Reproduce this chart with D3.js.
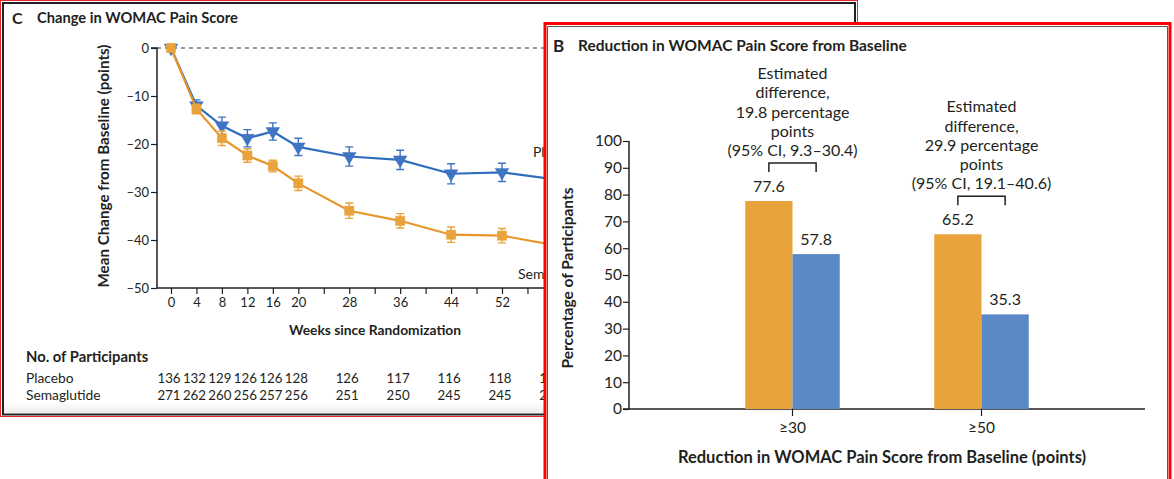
<!DOCTYPE html>
<html>
<head>
<meta charset="utf-8">
<script src="https://cdn.jsdelivr.net/npm/d3@7"></script>
<style>
  html, body { margin: 0; padding: 0; background: #fff; }
  svg { display: block; font-family: Lato, "Open Sans", sans-serif; }
</style>
</head>
<body>
<svg id="fig" width="1174" height="479"></svg>
<script>
// ---- Panel C: change in WOMAC pain score over time ----
const weeks = [0, 4, 8, 12, 16, 20, 28, 36, 44, 52, 60];
const weekTicks = d3.range(0, 65, 4);
const weekLabels = [0, 4, 8, 12, 16, 20, 28, 36, 44, 52, 60];
const placeboMean = [0, -12.0, -16.2, -18.8, -17.4, -20.6, -22.6, -23.3, -26.2, -25.9, -27.3];
const placeboErr  = [0, 1.2, 1.8, 1.8, 1.8, 1.8, 2.0, 2.0, 2.1, 1.9, 2.0];
const semaMean    = [0, -12.7, -18.8, -22.4, -24.6, -28.2, -33.9, -36.0, -38.9, -39.1, -41.0];
const semaErr     = [0, 1.0, 1.5, 1.4, 1.2, 1.5, 1.6, 1.5, 1.6, 1.5, 1.5];
const changeTicks = [0, -10, -20, -30, -40, -50];
const placeboN = [136, 132, 129, 126, 126, 128, 126, 117, 116, 118, 116];
const semaN    = [271, 262, 260, 256, 257, 256, 251, 250, 245, 245, 244];

// ---- Panel B: responders by threshold ----
const thresholds = ["≥30", "≥50"];
const semaPct    = [77.6, 65.2];
const placeboPct = [57.8, 35.3];
const pctTicks   = d3.range(0, 101, 10);
const diffNotes  = [
  ["Estimated", "difference,", "19.8 percentage", "points", "(95% CI, 9.3–30.4)"],
  ["Estimated", "difference,", "29.9 percentage", "points", "(95% CI, 19.1–40.6)"]
];

const ORANGE = "#E8A33C", ORANGE_LINE = "#E8962A";
const BLUE = "#5B89C6", BLUE_LINE = "#2F6EBF", BLUE_MARK = "#3E74C2";
const INK = "#231f20";
const fmtMinus = v => v === 0 ? "0" : "–" + Math.abs(v);

const svg = d3.select("#fig");
const defs = svg.append("defs");

// panel C sits behind panel B; keep its drawing to the uncovered area
defs.append("clipPath").attr("id", "clipC")
  .append("path").attr("d", "M0,0H860V22H545V479H0Z");

// ===================== Panel C =====================
const gC = svg.append("g").attr("clip-path", "url(#clipC)");

// faint shading at the bottom of the frame
const grad = defs.append("linearGradient").attr("id", "shade").attr("x1", 0).attr("x2", 0).attr("y1", 0).attr("y2", 1);
grad.append("stop").attr("offset", "0%").attr("stop-color", "#fff");
grad.append("stop").attr("offset", "100%").attr("stop-color", "#ececec");
gC.append("rect").attr("x", 4).attr("y", 402).attr("width", 850).attr("height", 11).attr("fill", "url(#shade)");

// frame: thin red outline around a dark rule
gC.append("rect").attr("x", 0.5).attr("y", 0.5).attr("width", 857).attr("height", 416)
  .attr("fill", "none").attr("stroke", "#e8292b").attr("stroke-width", 1);
gC.append("rect").attr("x", 3).attr("y", 3).attr("width", 852).attr("height", 411.5)
  .attr("fill", "none").attr("stroke", "#222").attr("stroke-width", 2);

gC.append("text").attr("x", 12).attr("y", 24).attr("font-weight", 700).attr("font-size", 16).attr("fill", INK).text("C");
gC.append("text").attr("x", 37).attr("y", 23).attr("font-weight", 700).attr("font-size", 14.7).attr("fill", INK)
  .text("Change in WOMAC Pain Score");

const xC = d3.scaleLinear().domain([0, 52]).range([171, 502]);
const yC = d3.scaleLinear().domain([-50, 0]).range([288, 48]);
const axisLeftX = 157;

// zero reference line
gC.append("line").attr("x1", axisLeftX).attr("x2", 860).attr("y1", yC(0)).attr("y2", yC(0))
  .attr("stroke", "#333").attr("stroke-width", 1).attr("stroke-dasharray", "4,4");

// y axis
const yAxisC = d3.axisLeft(yC).tickValues(changeTicks).tickSize(6).tickFormat(fmtMinus);
const gyC = gC.append("g").attr("transform", `translate(${axisLeftX},0)`).call(yAxisC);
gyC.select(".domain").attr("stroke", INK).attr("stroke-width", 1.5).attr("d", `M-6,${yC(0)}H0V${yC(-50)}`);
gyC.selectAll(".tick line").attr("stroke", INK).attr("stroke-width", 1.2);
gyC.selectAll(".tick text").attr("font-size", 13).attr("fill", INK).attr("font-family", "Lato, sans-serif").attr("x", -8);

// x axis
const xAxisC = d3.axisBottom(xC).tickValues(weekTicks).tickSize(6)
  .tickFormat(d => weekLabels.includes(d) ? d : "");
const gxC = gC.append("g").attr("transform", `translate(0,${yC(-50)})`).call(xAxisC);
gxC.select(".domain").attr("stroke", INK).attr("stroke-width", 1.5).attr("d", `M${axisLeftX},0H${xC(66)}`);
gxC.selectAll(".tick line").attr("stroke", INK).attr("stroke-width", 1.2);
gxC.selectAll(".tick text").attr("font-size", 13).attr("fill", INK).attr("font-family", "Lato, sans-serif").attr("y", 10);

gC.append("text").attr("x", 375).attr("y", 335).attr("text-anchor", "middle")
  .attr("font-weight", 700).attr("font-size", 13.8).attr("fill", INK).text("Weeks since Randomization");
gC.append("text").attr("transform", `translate(109,166) rotate(-90)`).attr("text-anchor", "middle")
  .attr("font-weight", 700).attr("font-size", 15.2).attr("fill", INK).text("Mean Change from Baseline (points)");

function drawSeries(means, errs, lineColor, markColor, shape) {
  const pts = weeks.map((w, i) => ({ w, m: means[i], e: errs[i] }));
  const line = d3.line().x(d => xC(d.w)).y(d => yC(d.m));
  gC.append("path").datum(pts).attr("d", line).attr("fill", "none")
    .attr("stroke", lineColor).attr("stroke-width", 2.2);
  const eb = gC.append("g").attr("stroke", markColor).attr("stroke-width", 1.4).attr("fill", "none");
  pts.filter(d => d.e > 0).forEach(d => {
    const x = xC(d.w), y0 = yC(d.m - d.e), y1 = yC(d.m + d.e);
    eb.append("path").attr("d", `M${x},${y0}V${y1}M${x - 4},${y0}H${x + 4}M${x - 4},${y1}H${x + 4}`);
  });
  const sym = d3.symbol().type(shape === "square" ? d3.symbolSquare : d3.symbolTriangle).size(shape === "square" ? 85 : 80);
  gC.append("g").selectAll("path").data(pts).join("path")
    .attr("d", sym)
    .attr("transform", d => `translate(${xC(d.w)},${yC(d.m)})` + (shape === "square" ? "" : " rotate(180)"))
    .attr("fill", markColor).attr("stroke", markColor).attr("stroke-width", 0.5);
}
drawSeries(placeboMean, placeboErr, BLUE_LINE, BLUE_MARK, "triangle");
drawSeries(semaMean, semaErr, ORANGE_LINE, ORANGE, "square");

gC.append("text").attr("x", 533).attr("y", 157).attr("font-size", 14).attr("fill", INK).text("Placebo");
gC.append("text").attr("x", 518).attr("y", 279).attr("font-size", 14).attr("fill", INK).text("Semaglutide");

// participants at risk
gC.append("text").attr("x", 26).attr("y", 362).attr("font-weight", 700).attr("font-size", 14.8).attr("fill", INK).text("No. of Participants");
const rows = [["Placebo", placeboN, 383], ["Semaglutide", semaN, 400]];
rows.forEach(([name, counts, y]) => {
  gC.append("text").attr("x", 26).attr("y", y).attr("font-size", 13.8).attr("fill", INK).text(name);
  gC.append("g").selectAll("text").data(weeks.map((w, i) => ({ w, n: counts[i] }))).join("text")
    .attr("x", d => xC(d.w) - 2).attr("y", y).attr("text-anchor", "middle")
    .attr("font-size", 13.3).attr("fill", INK).text(d => d.n);
});

// ===================== Panel B =====================
const gB = svg.append("g");
gB.append("rect").attr("x", 545).attr("y", 23.5).attr("width", 625).attr("height", 470)
  .attr("fill", "#fff").attr("stroke", "#f00").attr("stroke-width", 3);
gB.append("path").attr("d", "M547.5,480V26.5H1167.5V480").attr("fill", "none").attr("stroke", "#555").attr("stroke-width", 1);

gB.append("text").attr("x", 553).attr("y", 52).attr("font-weight", 700).attr("font-size", 17).attr("fill", INK).text("B");
gB.append("text").attr("x", 578).attr("y", 51).attr("font-weight", 700).attr("font-size", 15.5).attr("fill", INK)
  .text("Reduction in WOMAC Pain Score from Baseline");

const yB = d3.scaleLinear().domain([0, 100]).range([409, 141]);
const xB = d3.scaleBand().domain(thresholds).range([629, 1145]).paddingInner(0.5).paddingOuter(0.615);
const bw = xB.bandwidth() / 2;

const gyB = gB.append("g").attr("transform", "translate(629,0)")
  .call(d3.axisLeft(yB).tickValues(pctTicks).tickSize(6));
gyB.select(".domain").attr("stroke", INK).attr("stroke-width", 1.5).attr("d", `M0,${yB(100)}V${yB(0)}`);
gyB.selectAll(".tick line").attr("stroke", INK).attr("stroke-width", 1.2);
gyB.selectAll(".tick text").attr("font-size", 15.5).attr("fill", INK).attr("font-family", "Lato, sans-serif").attr("x", -7);

const gxB = gB.append("g").attr("transform", `translate(0,${yB(0)})`)
  .call(d3.axisBottom(xB).tickSize(7).tickSizeOuter(0));
gxB.select(".domain").attr("stroke", INK).attr("stroke-width", 1.5).attr("d", "M623,0H1145");
gxB.selectAll(".tick line").attr("stroke", INK).attr("stroke-width", 1.2);
gxB.selectAll(".tick text").attr("font-size", 15.5).attr("fill", INK).attr("font-family", "Lato, sans-serif").attr("y", 13);

gB.append("text").attr("x", 882).attr("y", 463).attr("text-anchor", "middle")
  .attr("font-weight", 700).attr("font-size", 16.5).attr("fill", INK).text("Reduction in WOMAC Pain Score from Baseline (points)");
gB.append("text").attr("transform", "translate(573,278) rotate(-90)").attr("text-anchor", "middle")
  .attr("font-weight", 700).attr("font-size", 15.5).attr("fill", INK).text("Percentage of Participants");

const barData = thresholds.flatMap((t, i) => [
  { t, v: semaPct[i], off: 0, color: ORANGE },
  { t, v: placeboPct[i], off: bw, color: BLUE }
]);
gB.append("g").selectAll("rect").data(barData).join("rect")
  .attr("x", d => xB(d.t) + d.off).attr("width", bw)
  .attr("y", d => yB(d.v)).attr("height", d => yB(0) - yB(d.v))
  .attr("fill", d => d.color);
gB.append("g").selectAll("text").data(barData).join("text")
  .attr("x", d => xB(d.t) + d.off + bw / 2).attr("y", d => yB(d.v) - 9)
  .attr("text-anchor", "middle").attr("font-size", 16).attr("fill", INK).text(d => d.v.toFixed(1));

// difference brackets with notes
thresholds.forEach((t, i) => {
  const xl = xB(t) + bw / 2, xr = xB(t) + bw * 1.5;
  const top = yB(semaPct[i]) - 38;
  gB.append("path").attr("d", `M${xl},${top + 9}V${top}H${xr}V${top + 9}`)
    .attr("fill", "none").attr("stroke", INK).attr("stroke-width", 1.5);
  const notes = diffNotes[i];
  gB.append("g").selectAll("text").data(notes).join("text")
    .attr("x", (xl + xr) / 2).attr("y", (d, k) => top - 7 - (notes.length - 1 - k) * 19.2)
    .attr("text-anchor", "middle").attr("font-size", 16).attr("fill", INK).text(d => d);
});
</script>
</body>
</html>
